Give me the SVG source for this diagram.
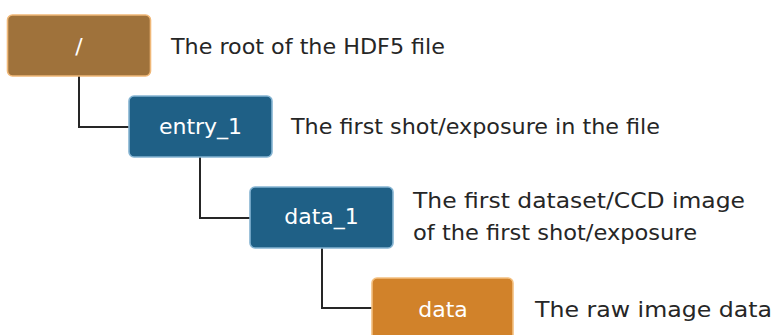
<svg xmlns="http://www.w3.org/2000/svg" width="774" height="335" viewBox="0 0 774 335">
<style>
.box{stroke-width:1.6}
.root{fill:#9f723b;stroke:#f0b878}
.grp{fill:#1f6086;stroke:#85b4d2}
.dat{fill:#d1822a;stroke:#f3c080}
.lbl{font-family:"DejaVu Sans","Liberation Sans",sans-serif;font-size:22px;fill:#ffffff;text-anchor:middle}
.desc{font-family:"DejaVu Sans","Liberation Sans",sans-serif;font-size:22px;fill:#262626}
.conn{fill:none;stroke:#262626;stroke-width:2}
</style>
<rect width="774" height="335" fill="#ffffff"/>
<g id="connectors">
<path class="conn" d="M79 76 V127 H129"/>
<path class="conn" d="M200 157 V218 H250"/>
<path class="conn" d="M322 248 V308 H372"/>
</g>
<g id="root">
<rect class="box root" x="7.5" y="15" width="143" height="61" rx="5"/>
<text class="lbl" x="79" y="54">/</text>
<text class="desc" x="171" y="54" textLength="274" lengthAdjust="spacingAndGlyphs">The root of the HDF5 file</text>
</g>
<g id="entry_1">
<rect class="box grp" x="129" y="96" width="143" height="61" rx="5"/>
<text class="lbl" x="200.5" y="134">entry_1</text>
<text class="desc" x="291" y="134" textLength="369" lengthAdjust="spacingAndGlyphs">The first shot/exposure in the file</text>
</g>
<g id="data_1">
<rect class="box grp" x="250" y="187" width="143" height="61" rx="5"/>
<text class="lbl" x="321.5" y="224">data_1</text>
<text class="desc" x="413" y="208" textLength="332" lengthAdjust="spacingAndGlyphs">The first dataset/CCD image</text>
<text class="desc" x="413" y="240" textLength="284" lengthAdjust="spacingAndGlyphs">of the first shot/exposure</text>
</g>
<g id="data">
<rect class="box dat" x="372" y="278" width="141" height="62" rx="5"/>
<text class="lbl" x="443" y="317">data</text>
<text class="desc" x="535" y="317" textLength="237" lengthAdjust="spacingAndGlyphs">The raw image data</text>
</g>
</svg>
